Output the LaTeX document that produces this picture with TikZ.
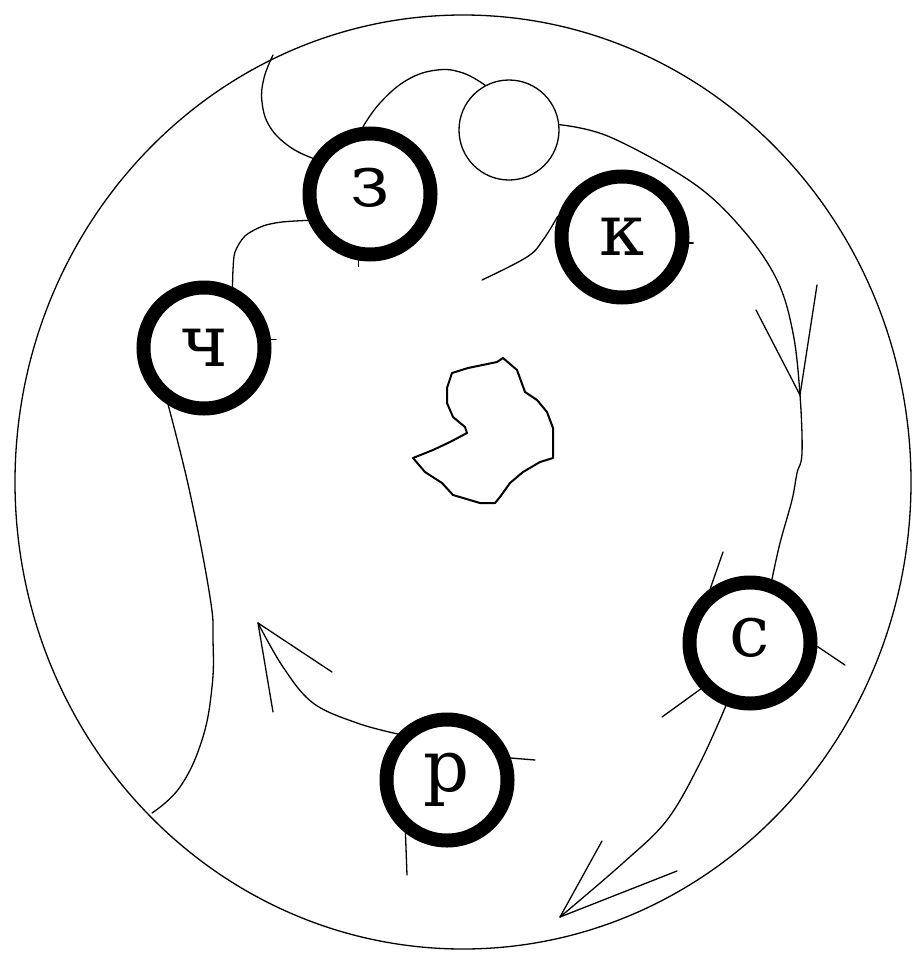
\documentclass[tikz,border=0pt]{standalone}
\usepackage{fontspec}
\setmainfont{DejaVu Serif}
\newfontfamily\letterfont{DejaVu Serif}
\begin{document}
\begin{tikzpicture}[x=1pt,y=-1pt,
  link/.style={line width=1.3pt,line join=round,line cap=round},
  ring/.style={circle,draw,line width=14pt,minimum size=121pt,inner sep=0pt,
               font=\letterfont\fontsize{72}{72}\selectfont},
  blob/.style={line width=2pt,line join=round}]
\useasboundingbox (0,0) rectangle (921,953);
\fill[white] (0,0) rectangle (921,953);

% outer circle
\draw[link] (463,482) ellipse [x radius=448pt, y radius=467pt];

% nodes
\node[ring] (z)  at (370,194) {\raisebox{6pt}[\height][\depth]{з}};
\node[ring] (ch) at (204,348) {ч};
\node[ring] (k)  at (622,237) {к};
\node[ring] (c)  at (750,643) {\raisebox{5pt}[\height][\depth]{с}};
\node[ring] (p)  at (447,780) {р};
\node[draw,circle,link,minimum size=100pt,inner sep=0pt] (sc) at (509,130) {};

% free ends
\coordinate (e1) at (152,813);
\coordinate (e2) at (273,55);
\coordinate (a1) at (800,395);
\coordinate (a2) at (560,917);
\coordinate (a3) at (258,623);

% top-left curve from outer circle to з
\draw[link] plot[smooth,tension=0.7] coordinates {(e2) (264,78) (262,102) (270,127) (290,147) (z.148)};

% з to small circle
\draw[link] plot[smooth,tension=0.7] coordinates {(z.96) (380,103) (407,80) (437,70) (463,73) (sc.118)};

% з to ч
\draw[link] plot[smooth,tension=0.5] coordinates {(z.203) (282,222) (263,226) (245,236) (235,252) (233,270) (ch.65)};

% ч down to outer circle
\draw[link] plot[smooth,tension=0.7] coordinates {(ch.238) (190,493) (210,597) (213,640) (212,687) (202,740) (180,787) (e1)};

% small circle to с through arrow
\draw[link] plot[smooth,tension=0.6] coordinates {(sc.6) (610,137) (693,183) (743,230) (777,280) (793,333) (a1) (802,453) (797,473) (792,500) (780,543) (c.71)};
\draw[link] (a1) -- (756,310);
\draw[link] (a1) -- (817,285);

% с down to arrow at bottom
\draw[link] plot[smooth,tension=0.6] coordinates {(c.249) (700,763) (667,820) (623,863) (a2)};
\draw[link] (a2) -- (602,841);
\draw[link] (a2) -- (677,871);

% р to arrow at left
\draw[link] plot[smooth,tension=0.6] coordinates {(p.137) (357,723) (313,703) (283,667) (a3)};
\draw[link] (a3) -- (332,672);
\draw[link] (a3) -- (273,712);

% к left
\draw[link] plot[smooth,tension=0.6] coordinates {(k.162) (543,240) (527,257) (482,280)};

% stubs
\draw[link] (c.126) -- (723,552);
\draw[link] (c.-3) -- (845,665);
\draw[link] (c.223) -- (662,717);
\draw[link] (p.19) -- (535,760);
\draw[link] (p.232) -- (407,875);
\draw[link] (z.260) -- ++(0,6);
\draw[link] (ch.7) -- ++(5,0);
\draw[link] (k.-5) -- ++(4,0);

% central blob
\draw[blob] (452,373) -- (468,368) -- (497,362) -- (503,358) -- (517,370) -- (525,392)
  -- (537,400) -- (547,412) -- (553,428) -- (553,458) -- (540,462) -- (523,472)
  -- (510,483) -- (500,497) -- (495,503) -- (480,503) -- (453,495) -- (442,483)
  -- (425,472) -- (413,458) -- (433,450) -- (450,442) -- (467,433) -- (465,427)
  -- (453,417) -- (447,403) -- (447,388) -- cycle;
\end{tikzpicture}
\end{document}
